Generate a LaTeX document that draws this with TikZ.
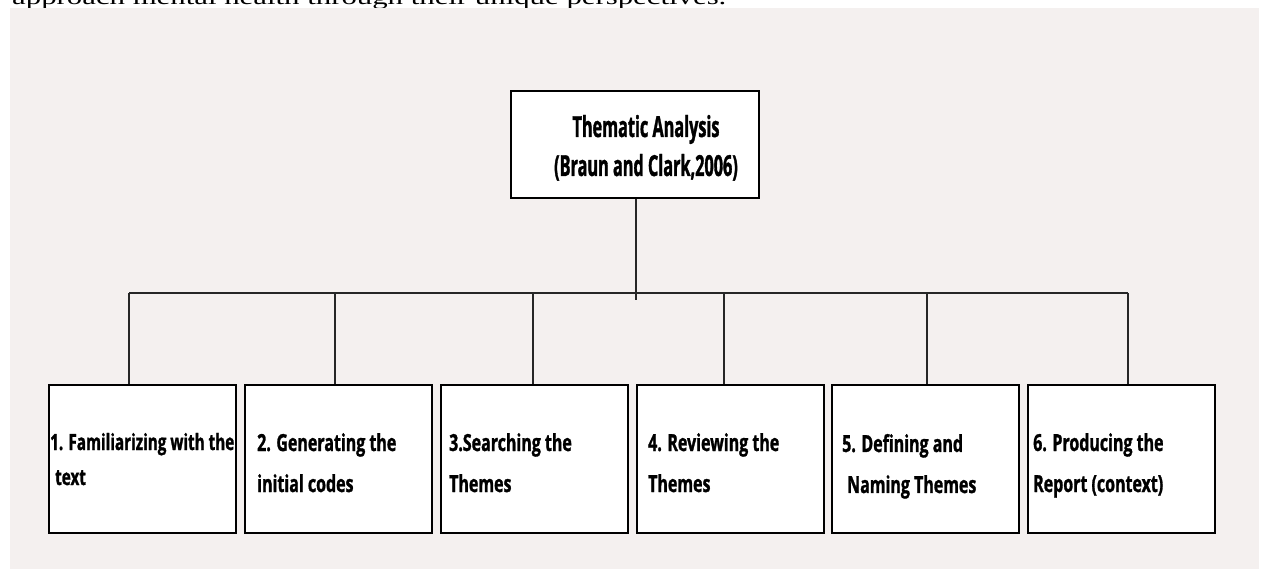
\documentclass[tikz,border=0pt]{standalone}
\usepackage{fontspec}
\setmainfont{Liberation Serif}
\newfontfamily\boxfont[FakeStretch=0.68,FakeBold=1.2]{Open Sans}
\newfontfamily\titlefont[FakeStretch=0.56,FakeBold=1.2]{Open Sans}
\newfontfamily\introfont[FakeStretch=1.4]{Liberation Serif}
\definecolor{bgc}{RGB}{244,240,239}
\begin{document}
\begin{tikzpicture}[x=1pt,y=-1pt,
  box/.style={draw=black, line width=2.8pt, fill=white, rectangle, inner sep=0pt},
  conn/.style={draw=black!85, line width=1.1pt},
  hconn/.style={draw=black!85, line width=2.6pt},
  lbl/.style={font=\boxfont\bfseries\fontsize{23.5}{41}\selectfont, align=left, inner sep=0pt, anchor=base west},
  ttl/.style={font=\titlefont\bfseries\fontsize{29}{39}\selectfont, align=center, inner sep=0pt, anchor=base}]
\useasboundingbox (0,0) rectangle (1262,569);
\node[anchor=base west, inner sep=0pt, font=\introfont\fontsize{22}{24}\selectfont] (intro) at (12,5) {approach mental health through their unique perspectives.};
\fill[bgc] (10,8) rectangle (1259,569);

\node[box, minimum width=248pt, minimum height=107pt] (top) at (635,144.5) {};
\node[ttl] (toptext) at (646,176) {Thematic Analysis\\(Braun and Clark,2006)};

\node[box, minimum width=187pt, minimum height=148pt] (b1) at (142.5,459) {};
\node[box, minimum width=187pt, minimum height=148pt] (b2) at (338.5,459) {};
\node[box, minimum width=187pt, minimum height=148pt] (b3) at (534.5,459) {};
\node[box, minimum width=187pt, minimum height=148pt] (b4) at (730.5,459) {};
\node[box, minimum width=187pt, minimum height=148pt] (b5) at (925.5,459) {};
\node[box, minimum width=187pt, minimum height=148pt] (b6) at (1121.5,459) {};

\node[lbl, font=\boxfont\bfseries\fontsize{22.4}{35}\selectfont] (t1) at (50,485) {1. Familiarizing with the\\\hspace{5pt}text};
\node[lbl] (t2) at (257,492) {2. Generating the\\initial codes};
\node[lbl] (t3) at (449,492) {3.Searching the\\Themes};
\node[lbl] (t4) at (648,492) {4. Reviewing the\\Themes};
\node[lbl] (t5) at (842,493) {5. Defining and\\\hspace{5pt}Naming Themes};
\node[lbl] (t6) at (1033,492) {6. Producing the\\Report (context)};

\coordinate (j1) at (129,293);
\coordinate (j2) at (335,293);
\coordinate (j3) at (533,293);
\coordinate (j4) at (724,293);
\coordinate (j5) at (927,293);
\coordinate (j6) at (1128,293);
\coordinate (hub) at (636,300);

\draw[conn] (top.south -| hub) -- (hub);
\draw[hconn] (j1) -- (j6);
\foreach \i in {1,...,6}{
  \draw[conn] (j\i) -- (j\i |- b\i.north);
}
\end{tikzpicture}
\end{document}
